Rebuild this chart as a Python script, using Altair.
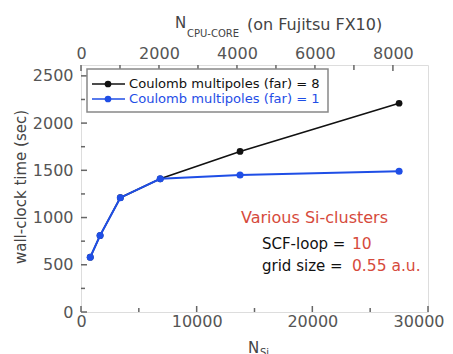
import altair as alt
import pandas as pd

# ---------------- data ----------------
n_si = [800, 1650, 3400, 6850, 13750, 27500]
t_far8 = [580, 810, 1210, 1410, 1700, 2210]
t_far1 = [580, 810, 1210, 1410, 1450, 1490]
series_names = ["Coulomb multipoles (far) = 8", "Coulomb multipoles (far) = 1"]

y_major = [0, 500, 1000, 1500, 2000, 2500]
y_minor = [250, 750, 1250, 1750, 2250]
x_major = [0, 10000, 20000, 30000]
x_minor = [5000, 15000, 25000]
cpu_major = [0, 2000, 4000, 6000, 8000]
cpu_minor = [1000, 3000, 5000, 7000]

x_domain = [0, 30000]
y_domain = [0, 2615]
cpu_domain = [0, 8900]

# ---------------- style ----------------
W, H = 347, 247
FONT = "DejaVu Sans"
GRAY = "#555555"
FRAME = "#666666"
BLACK = "#111111"
BLUE = "#1f4ee6"
RED = "#d64a3c"


def xs():
    return alt.Scale(domain=x_domain, nice=False, zero=False)


def ys():
    return alt.Scale(domain=y_domain, nice=False, zero=False)


def cs():
    return alt.Scale(domain=cpu_domain, nice=False, zero=False)


lab = dict(ticks=False, domain=False, grid=False, labelFont=FONT, labelFontSize=16,
           labelColor=GRAY, labelOverlap=False, title=None, format="d")

x_axis = alt.Axis(orient="bottom", values=x_major[:-1], labelPadding=1, labelFlush=False, **lab)
x_axis_end = alt.Axis(orient="bottom", values=x_major[-1:], labelPadding=1, labelFlush=True,
                      labelFlushOffset=16, **lab)
y_axis = alt.Axis(orient="left", values=y_major, labelPadding=8, labelFlush=False, **lab)
top_axis = alt.Axis(orient="top", values=cpu_major, labelPadding=4, labelFlush=False, **lab)

one = pd.DataFrame({"a": [0]})

# ---------------- series ----------------
d8 = pd.DataFrame({"n": n_si, "t": t_far8})
d1 = pd.DataFrame({"n": n_si, "t": t_far1})

line8 = alt.Chart(d8).mark_line(color=BLACK, strokeWidth=1.6).encode(
    x=alt.X("n:Q", scale=xs(), axis=x_axis), y=alt.Y("t:Q", scale=ys(), axis=y_axis))
pts8 = alt.Chart(d8).mark_circle(color=BLACK, size=45, opacity=1).encode(
    x=alt.X("n:Q", scale=xs(), axis=None), y=alt.Y("t:Q", scale=ys(), axis=None))
line1 = alt.Chart(d1).mark_line(color=BLUE, strokeWidth=2).encode(
    x=alt.X("n:Q", scale=xs(), axis=None), y=alt.Y("t:Q", scale=ys(), axis=None))
pts1 = alt.Chart(d1).mark_circle(color=BLUE, size=50, opacity=1).encode(
    x=alt.X("n:Q", scale=xs(), axis=None), y=alt.Y("t:Q", scale=ys(), axis=None))

# ---------------- inward ticks ----------------
ytk_major = alt.Chart(pd.DataFrame({"v": y_major})).mark_rule(color=FRAME, strokeWidth=1.5).encode(
    y=alt.Y("v:Q", scale=ys(), axis=None), x=alt.value(0), x2=alt.value(6))
ytk_minor = alt.Chart(pd.DataFrame({"v": y_minor})).mark_rule(color=FRAME, strokeWidth=1.5).encode(
    y=alt.Y("v:Q", scale=ys(), axis=None), x=alt.value(0), x2=alt.value(4))
xtk_major = alt.Chart(pd.DataFrame({"v": x_major})).mark_rule(color=FRAME, strokeWidth=1.5).encode(
    x=alt.X("v:Q", scale=xs(), axis=x_axis_end), y=alt.value(H), y2=alt.value(H - 6))
xtk_minor = alt.Chart(pd.DataFrame({"v": x_minor})).mark_rule(color=FRAME, strokeWidth=1.5).encode(
    x=alt.X("v:Q", scale=xs(), axis=None), y=alt.value(H), y2=alt.value(H - 4))

ctk_major = alt.Chart(pd.DataFrame({"c": cpu_major})).mark_rule(color=FRAME, strokeWidth=1.5).encode(
    x=alt.X("c:Q", scale=cs(), axis=top_axis), y=alt.value(0), y2=alt.value(6))
ctk_minor = alt.Chart(pd.DataFrame({"c": cpu_minor})).mark_rule(color=FRAME, strokeWidth=1.5).encode(
    x=alt.X("c:Q", scale=cs(), axis=None), y=alt.value(0), y2=alt.value(5))

# ---------------- legend ----------------
leg_box = alt.Chart(one).mark_rect(fill="white", stroke="#888888", strokeWidth=1.5).encode(
    x=alt.value(6), x2=alt.value(247), y=alt.value(4), y2=alt.value(47))
leg_layers = []
for i, (name, col) in enumerate(zip(series_names, [BLACK, BLUE])):
    yy = 19 + 15 * i
    leg_layers.append(alt.Chart(one).mark_rule(color=col, strokeWidth=1.6).encode(
        x=alt.value(11), x2=alt.value(44), y=alt.value(yy)))
    leg_layers.append(alt.Chart(one).mark_circle(color=col, size=45, opacity=1).encode(
        x=alt.value(27), y=alt.value(yy)))
    leg_layers.append(alt.Chart(one).mark_text(
        text=name, color=col, font=FONT, fontSize=13.1, align="left", baseline="middle").encode(
        x=alt.value(48), y=alt.value(yy)))


def txt(s, x, y, color=BLACK, size=16, **kw):
    return alt.Chart(one).mark_text(text=s, color=color, font=FONT, fontSize=size,
                                    align=kw.pop("align", "left"), baseline="middle", **kw).encode(
        x=alt.value(x), y=alt.value(y))


notes = [
    txt("Various Si-clusters", 160, 153, RED, 16),
    txt("SCF-loop =", 181, 179, BLACK, 15),
    txt("10", 271, 179, RED, 15.5),
    txt("grid size =", 181, 201, BLACK, 15),
    txt("0.55 a.u.", 271, 201, RED, 15.5),
    # axis titles
    txt("N", 94, -42, "#444444", 15),
    txt("CPU-CORE", 106, -31, "#444444", 10),
    txt("(on Fujitsu FX10)", 166, -40, "#444444", 16),
    txt("N", 167, 283, "#444444", 15),
    txt("Si", 179, 288, "#444444", 10),
    txt("wall-clock time (sec)", -60, 122, "#444444", 15, align="center", angle=270),
]

chart = alt.layer(
    line8, pts8, line1, pts1, ytk_major, ytk_minor, xtk_major, xtk_minor,
    ctk_major, ctk_minor, leg_box, *leg_layers, *notes
).resolve_scale(x="independent", y="independent").properties(
    width=W, height=H,
    autosize=alt.AutoSizeParams(type="none"),
    padding={"left": 73, "top": 57, "right": 17, "bottom": 42},
).configure_view(stroke=FRAME, strokeWidth=2).configure(background="white")

chart.save("out.html", embed_options={"renderer": "svg", "actions": False})
